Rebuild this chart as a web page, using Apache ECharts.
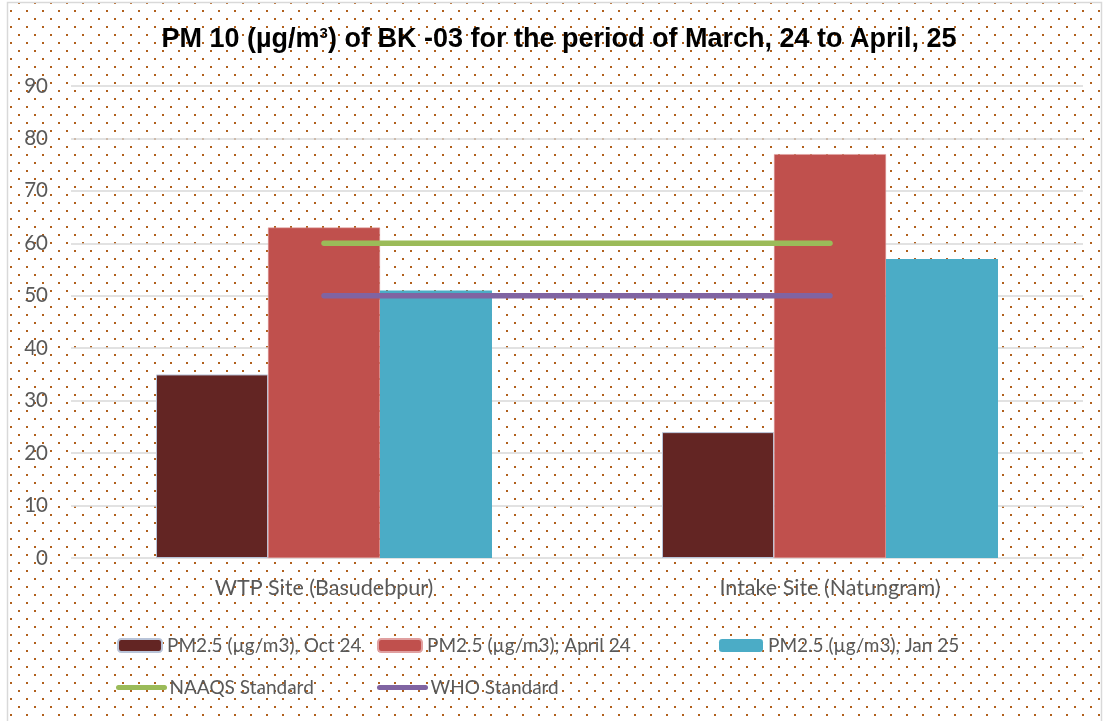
<!DOCTYPE html>
<html>
<head>
<meta charset="utf-8">
<script src="https://cdn.jsdelivr.net/npm/echarts@6/dist/echarts.min.js"></script>
<style>
  html, body { margin: 0; padding: 0; background: #fff; }
  #chart { width: 1105px; height: 721px; }
</style>
</head>
<body>
<div id="chart"></div>
<script>
const categories = ['WTP Site (Basudebpur)', 'Intake Site (Natungram)']
const pmOct24 = [35, 24]
const pmApr24 = [63, 77]
const pmJan25 = [51, 57]
const naaqsStandard = [60, 60]
const whoStandard = [50, 50]
const yTicks = [0, 10, 20, 30, 40, 50, 60, 70, 80, 90]

const names = [
  'PM2.5 (µg/m3), Oct 24',
  'PM2.5 (µg/m3); April 24',
  'PM2.5 (µg/m3), Jan 25',
  'NAAQS Standard',
  'WHO Standard'
]

// dotted background tile
const tile = document.createElement('canvas')
tile.width = 16
tile.height = 16
const ctx = tile.getContext('2d')
ctx.fillStyle = '#b0601c'
ctx.fillRect(2, 2, 2, 2)
ctx.fillRect(10, 10, 2, 2)

const labelFont = 'Lato, "Open Sans", sans-serif'
const labelColor = '#595959'

function barLegend(name, left) {
  return {
    data: [name],
    left: left,
    top: 636,
    padding: 0,
    itemWidth: 44,
    itemHeight: 13,
    itemGap: 0,
    selectedMode: false,
    textStyle: { color: labelColor, fontFamily: labelFont, fontSize: 19 }
  }
}

function lineLegend(name, left) {
  return {
    data: [name],
    left: left,
    top: 678,
    padding: 0,
    itemWidth: 46,
    itemHeight: 20,
    itemGap: 0,
    selectedMode: false,
    lineStyle: { width: 5, cap: 'round' },
    itemStyle: { color: 'rgba(0,0,0,0)', borderWidth: 0, opacity: 0 },
    textStyle: { color: labelColor, fontFamily: labelFont, fontSize: 19 }
  }
}

const chart = echarts.init(document.getElementById('chart'), null, { renderer: 'canvas' })
chart.setOption({
  animation: false,
  backgroundColor: '#ffffff',
  graphic: [
    {
      type: 'rect',
      z: -100,
      silent: true,
      shape: { x: 8, y: 3, width: 1097, height: 718 },
      style: { fill: { image: tile, repeat: 'repeat' } }
    },
    {
      type: 'rect',
      z: -90,
      silent: true,
      shape: { x: 7.5, y: 2.5, width: 1094, height: 730 },
      style: { fill: null, stroke: '#d9d9d9', lineWidth: 1.5 }
    }
  ],
  title: {
    text: '{a|PM 10 (µg/m}{s|3}{a|) of BK -03 for the period of March, 24 to April, 25}',
    left: 554,
    textAlign: 'center',
    top: 21,
    textStyle: {
      rich: {
        a: {
          fontFamily: '"Liberation Sans", Arial, sans-serif',
          fontWeight: 'bold',
          fontSize: 27,
          color: '#000000'
        },
        s: {
          fontFamily: '"Liberation Sans", Arial, sans-serif',
          fontWeight: 'bold',
          fontSize: 15,
          color: '#000000',
          verticalAlign: 'top',
          padding: [0, 0, 12, 0]
        }
      }
    }
  },
  legend: [
    barLegend(names[0], 117),
    barLegend(names[1], 377),
    barLegend(names[2], 719),
    lineLegend(names[3], 116),
    lineLegend(names[4], 377)
  ],
  grid: {
    left: 71,
    right: 22,
    top: 86,
    bottom: 163
  },
  xAxis: {
    type: 'category',
    data: categories,
    axisLine: { show: false },
    axisTick: { show: false },
    axisLabel: {
      margin: 19,
      color: labelColor,
      fontFamily: labelFont,
      fontSize: 21.5
    }
  },
  yAxis: {
    type: 'value',
    min: yTicks[0],
    max: yTicks[yTicks.length - 1],
    interval: 10,
    axisLine: { show: false },
    axisTick: { show: false },
    axisLabel: {
      margin: 23,
      color: labelColor,
      fontFamily: labelFont,
      fontSize: 20.5
    },
    splitLine: { lineStyle: { color: '#d9d9d9', width: 1.5 } }
  },
  series: [
    {
      name: names[0],
      type: 'bar',
      data: pmOct24,
      barGap: '0%',
      barCategoryGap: '33.6%',
      itemStyle: { color: '#632523', borderColor: '#b9c4d8', borderWidth: 1 }
    },
    {
      name: names[1],
      type: 'bar',
      data: pmApr24,
      barGap: '0%',
      barCategoryGap: '33.6%',
      itemStyle: { color: '#c0504d', borderColor: '#e0a0a0', borderWidth: 0.5 }
    },
    {
      name: names[2],
      type: 'bar',
      data: pmJan25,
      barGap: '0%',
      barCategoryGap: '33.6%',
      itemStyle: { color: '#4bacc6' }
    },
    {
      name: names[3],
      type: 'line',
      data: naaqsStandard,
      symbol: 'none',
      lineStyle: { color: '#9bbb59', width: 5.5, cap: 'round' },
      itemStyle: { color: '#9bbb59' }
    },
    {
      name: names[4],
      type: 'line',
      data: whoStandard,
      symbol: 'none',
      lineStyle: { color: '#8064a2', width: 5.5, cap: 'round' },
      itemStyle: { color: '#8064a2' }
    }
  ]
})
</script>
</body>
</html>
